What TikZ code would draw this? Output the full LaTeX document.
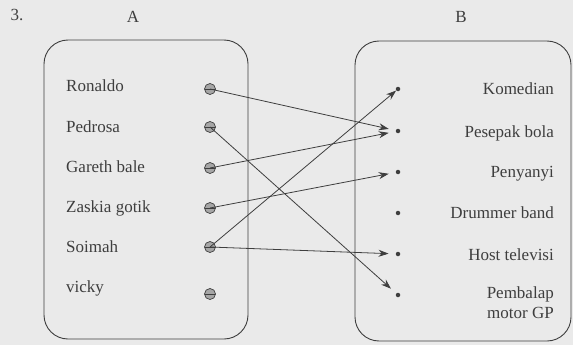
\documentclass[tikz,border=0pt]{standalone}
\usepackage{fontspec}
\setmainfont{Liberation Serif}
\usetikzlibrary{arrows.meta}
\definecolor{ink}{HTML}{3E3E3E}
\definecolor{paper}{HTML}{EAEAEA}

\begin{document}
\begin{tikzpicture}[x=1pt,y=-1pt,
  every node/.style={text=ink, font=\fontsize{17}{20}\selectfont},
  box/.style={draw=ink, line width=0.9pt, rounded corners=24pt},
  word/.style={inner sep=0pt},
  ldot/.style={circle, draw=ink, fill=gray!70, minimum size=11pt, inner sep=0pt, line width=0.7pt,
    path picture={\draw[ink, line width=0.9pt] (path picture bounding box.west) -- (path picture bounding box.east);}},
  rdot/.style={circle, fill=ink, minimum size=4.5pt, inner sep=0pt},
  link/.style={draw=ink, line width=0.8pt, -{Stealth[length=10pt,width=7pt]}, shorten >=7pt}]
  \useasboundingbox[fill=paper] (0,0) rectangle (573,345);
  \draw[box] (44,40) rectangle (248,339);
  \draw[box] (355,41) rectangle (571,341);
  \node (num) at (17,15) {3.};
  \node (A) at (133,17) {A};
  \node (B) at (461,17) {B};
  % set A
  \node[word, anchor=base west] (t-ronaldo) at (66,92) {Ronaldo};
  \node[word, anchor=base west] (t-pedrosa) at (66,132) {Pedrosa};
  \node[word, anchor=base west] (t-gareth) at (66,172) {Gareth bale};
  \node[word, anchor=base west] (t-zaskia) at (66,212) {Zaskia gotik};
  \node[word, anchor=base west] (t-soimah) at (66,252) {Soimah};
  \node[word, anchor=base west] (t-vicky) at (66,292) {vicky};
  \node[ldot] (ronaldo) at (210,89) {};
  \node[ldot] (pedrosa) at (210,127) {};
  \node[ldot] (gareth) at (210,168) {};
  \node[ldot] (zaskia) at (210,208) {};
  \node[ldot] (soimah) at (210,247) {};
  \node[ldot] (vicky) at (210,294) {};
  % set B
  \node[word, anchor=base east] (t-komedian) at (554,95) {Komedian};
  \node[word, anchor=base east] (t-pesepak) at (554,137) {Pesepak bola};
  \node[word, anchor=base east] (t-penyanyi) at (554,177) {Penyanyi};
  \node[word, anchor=base east] (t-drummer) at (554,218) {Drummer band};
  \node[word, anchor=base east] (t-host) at (554,260) {Host televisi};
  \node[word, anchor=base east, align=right] (t-pembalap) at (554,318) {Pembalap\\motor GP};
  \node[rdot] (komedian) at (398,89) {};
  \node[rdot] (pesepak) at (398,131) {};
  \node[rdot] (penyanyi) at (398,172) {};
  \node[rdot] (drummer) at (398,213) {};
  \node[rdot] (host) at (398,254) {};
  \node[rdot] (pembalap) at (398,295) {};
  % relation
  \draw[link] (ronaldo.center) -- (pesepak);
  \draw[link] (pedrosa.center) -- (pembalap);
  \draw[link] (gareth.center) -- (pesepak);
  \draw[link] (zaskia.center) -- (penyanyi);
  \draw[link, shorten >=0pt] (soimah.center) -- (komedian);
  \draw[link] (soimah.center) -- (host);
\end{tikzpicture}
\end{document}
